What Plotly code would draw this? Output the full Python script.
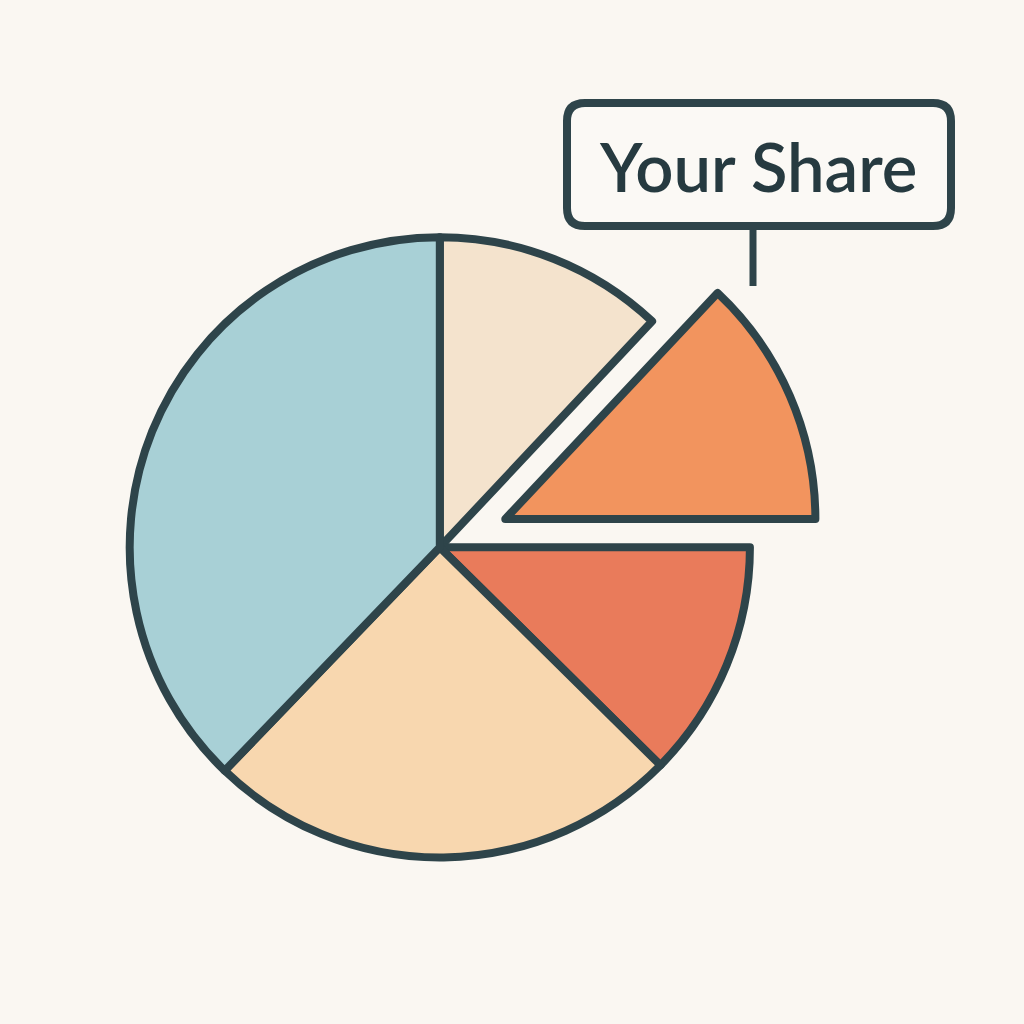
import plotly.graph_objects as go

# ---- data (clockwise from 12 o'clock) ----
categories = ["Segment A", "Your Share", "Segment C", "Segment D", "Segment E"]
values = [12, 13, 12.4, 24.8, 37.8]
colors = ["#F4E3CD", "#F2945E", "#E97B5B", "#F8D7AF", "#A8D0D6"]
pulls = [0, 0.23, 0, 0, 0]
callout_text = "Your Share"

W = H = 1024
OUTLINE = "#2E444A"
BG = "#FAF7F2"

def px(x):
    return x / W

def py(y):
    return 1 - y / H

fig = go.Figure(
    go.Pie(
        labels=categories,
        values=values,
        sort=False,
        direction="clockwise",
        rotation=0,
        pull=pulls,
        marker=dict(colors=colors, line=dict(color=OUTLINE, width=8)),
        textinfo="none",
        hoverinfo="label+percent",
        showlegend=False,
        domain=dict(x=[0.057, 0.802], y=[0.093, 0.838]),
    )
)

# rounded callout box
x0, x1, y0, y1, r = 567, 951, 103, 226, 18
path = (
    f"M {px(x0 + r)} {py(y0)} L {px(x1 - r)} {py(y0)} "
    f"Q {px(x1)} {py(y0)} {px(x1)} {py(y0 + r)} "
    f"L {px(x1)} {py(y1 - r)} Q {px(x1)} {py(y1)} {px(x1 - r)} {py(y1)} "
    f"L {px(x0 + r)} {py(y1)} Q {px(x0)} {py(y1)} {px(x0)} {py(y1 - r)} "
    f"L {px(x0)} {py(y0 + r)} Q {px(x0)} {py(y0)} {px(x0 + r)} {py(y0)} Z"
)

fig.update_layout(
    width=W,
    height=H,
    margin=dict(l=0, r=0, t=0, b=0),
    paper_bgcolor=BG,
    plot_bgcolor=BG,
    shapes=[
        dict(type="path", xref="paper", yref="paper", path=path,
             line=dict(color=OUTLINE, width=8), fillcolor="#FBF9F5", layer="above"),
        dict(type="line", xref="paper", yref="paper",
             x0=px(753), x1=px(753), y0=py(230), y1=py(286),
             line=dict(color=OUTLINE, width=7), layer="above"),
    ],
    annotations=[
        dict(text=callout_text, xref="paper", yref="paper",
             x=px(758), y=py(166), xanchor="center", yanchor="middle",
             showarrow=False,
             font=dict(family="Lato", size=67, weight=600, color="#263A40")),
    ],
)

fig.write_html(
    "out.html",
    config={"displayModeBar": False},
    post_script="document.body.style.margin='0';document.body.style.background='#FAF7F2';",
)
